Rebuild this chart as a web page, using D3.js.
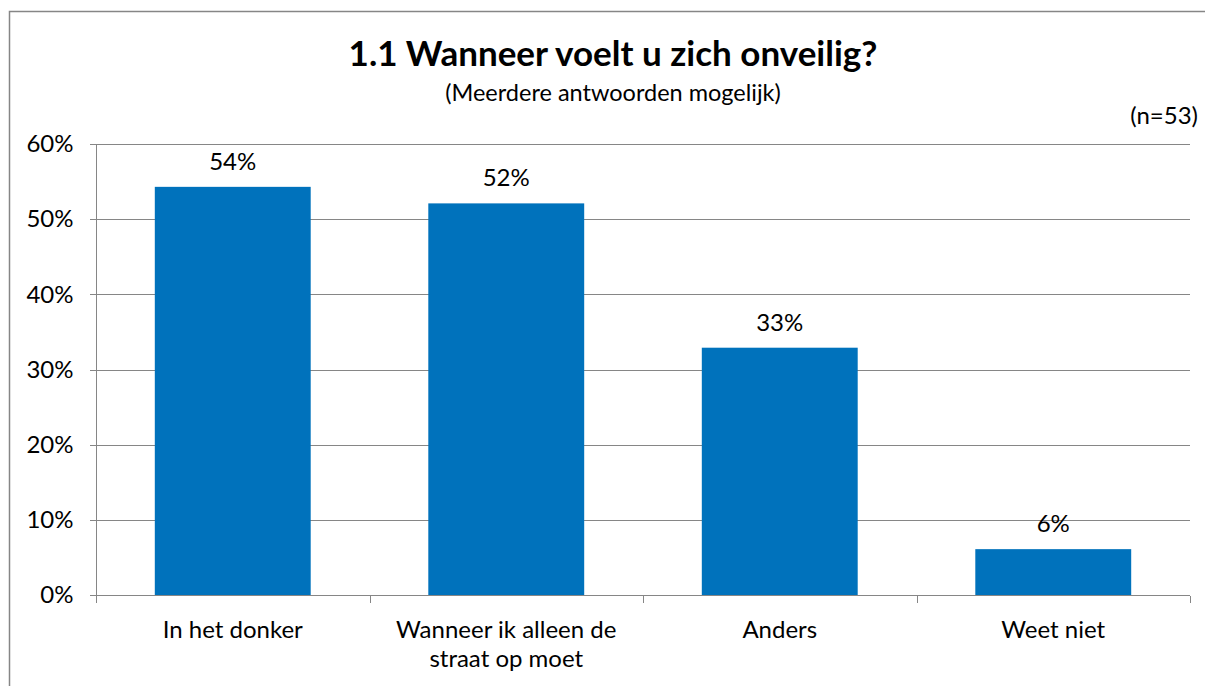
<!DOCTYPE html>
<html lang="nl">
<head>
	<meta charset="utf-8">
	<title>Wanneer voelt u zich onveilig</title>
	<script src="https://d3js.org/d3.v7.min.js"></script>
	<style>
		body { margin: 0; background: #fff; overflow: hidden; font-family: Lato, "Noto Sans", sans-serif; }
		svg { display: block; }
		svg text { fill: #000; }
		.grid line { stroke: #868686; stroke-width: 1; shape-rendering: crispEdges; }
		.axis path, .axis line { stroke: #868686; shape-rendering: crispEdges; }
		.axis text { font-size: 24px; font-family: Lato, sans-serif; fill: #000; }
	</style>
</head>
<body>
<div id="vis"></div>
<script>
	// data
	var categories = ["In het donker", "Wanneer ik alleen de straat op moet", "Anders", "Weet niet"];
	var catLines = [["In het donker"], ["Wanneer ik alleen de", "straat op moet"], ["Anders"], ["Weet niet"]];
	var values = [0.543, 0.521, 0.329, 0.061];
	var yTicks = [0, 0.1, 0.2, 0.3, 0.4, 0.5, 0.6];

	var W = 1205, H = 686;
	var plot = { left: 96, right: 1190, top: 144, bottom: 595 };

	var svg = d3.select('#vis').append('svg')
		.attr('width', W).attr('height', H);

	// outer frame (only left and top edges are inside the picture)
	svg.append('path')
		.attr('d', 'M9.5,' + H + 'V11.5H' + W)
		.attr('fill', 'none').attr('stroke', '#868686').attr('stroke-width', 1.5);

	var x = d3.scaleBand().domain(categories)
		.range([plot.left, plot.right]).paddingInner(0.43).paddingOuter(0.215);
	var y = d3.scaleLinear().domain([0, 0.6]).range([plot.bottom, plot.top]);

	// gridlines
	svg.append('g').attr('class', 'grid')
		.selectAll('line').data(yTicks.slice(1)).enter().append('line')
		.attr('x1', plot.left).attr('x2', plot.right)
		.attr('y1', function (d) { return Math.round(y(d)) + 0.5; })
		.attr('y2', function (d) { return Math.round(y(d)) + 0.5; });

	// bars
	svg.append('g').selectAll('rect').data(values).enter().append('rect')
		.attr('x', function (d, i) { return x(categories[i]); })
		.attr('width', x.bandwidth())
		.attr('y', function (d) { return y(d); })
		.attr('height', function (d) { return y(0) - y(d); })
		.attr('fill', '#0072BC');

	// value labels
	svg.append('g').selectAll('text').data(values).enter().append('text')
		.attr('x', function (d, i) { return x(categories[i]) + x.bandwidth() / 2; })
		.attr('y', function (d) { return y(d) - 17; })
		.attr('text-anchor', 'middle')
		.style('font-size', '24px')
		.text(function (d) { return Math.round(d * 100) + '%'; });

	// y axis
	var yAxis = d3.axisLeft(y).tickValues(yTicks).tickSize(7).tickPadding(16)
		.tickFormat(d3.format('.0%'));
	svg.append('g').attr('class', 'axis')
		.attr('transform', 'translate(' + (plot.left + 0.5) + ',0)')
		.call(yAxis)
		.call(function (g) { g.select('.domain').attr('d', 'M-7,' + (plot.top + 0.5) + 'H0V' + (plot.bottom + 0.5) + 'H-7'); });

	// x axis with boundary ticks
	var xb = d3.scaleLinear().domain([0, 4]).range([plot.left, plot.right]);
	var xAxis = svg.append('g').attr('class', 'axis')
		.attr('transform', 'translate(0,' + (plot.bottom + 0.5) + ')');
	xAxis.append('line').attr('x1', plot.left).attr('x2', plot.right);
	xAxis.selectAll('.tk').data(d3.range(5)).enter().append('line')
		.attr('x1', function (d) { return Math.round(xb(d)) + 0.5; })
		.attr('x2', function (d) { return Math.round(xb(d)) + 0.5; })
		.attr('y1', 0).attr('y2', 7);
	xAxis.selectAll('.lbl').data(catLines).enter().append('text')
		.attr('text-anchor', 'middle')
		.attr('transform', function (d, i) { return 'translate(' + (x(categories[i]) + x.bandwidth() / 2) + ',0)'; })
		.selectAll('tspan').data(function (d) { return d; }).enter().append('tspan')
		.attr('x', 0)
		.attr('y', function (d, j) { return 42 + j * 29; })
		.text(function (d) { return d; });

	// titles
	svg.append('text').attr('x', 613).attr('y', 66).attr('text-anchor', 'middle')
		.style('font-size', '35px').style('font-weight', 'bold')
		.text('1.1 Wanneer voelt u zich onveilig?');
	svg.append('text').attr('x', 613).attr('y', 101).attr('text-anchor', 'middle')
		.style('font-size', '23.5px')
		.text('(Meerdere antwoorden mogelijk)');
	svg.append('text').attr('x', 1198).attr('y', 124).attr('text-anchor', 'end')
		.style('font-size', '24px')
		.text('(n=53)');
</script>
</body>
</html>
